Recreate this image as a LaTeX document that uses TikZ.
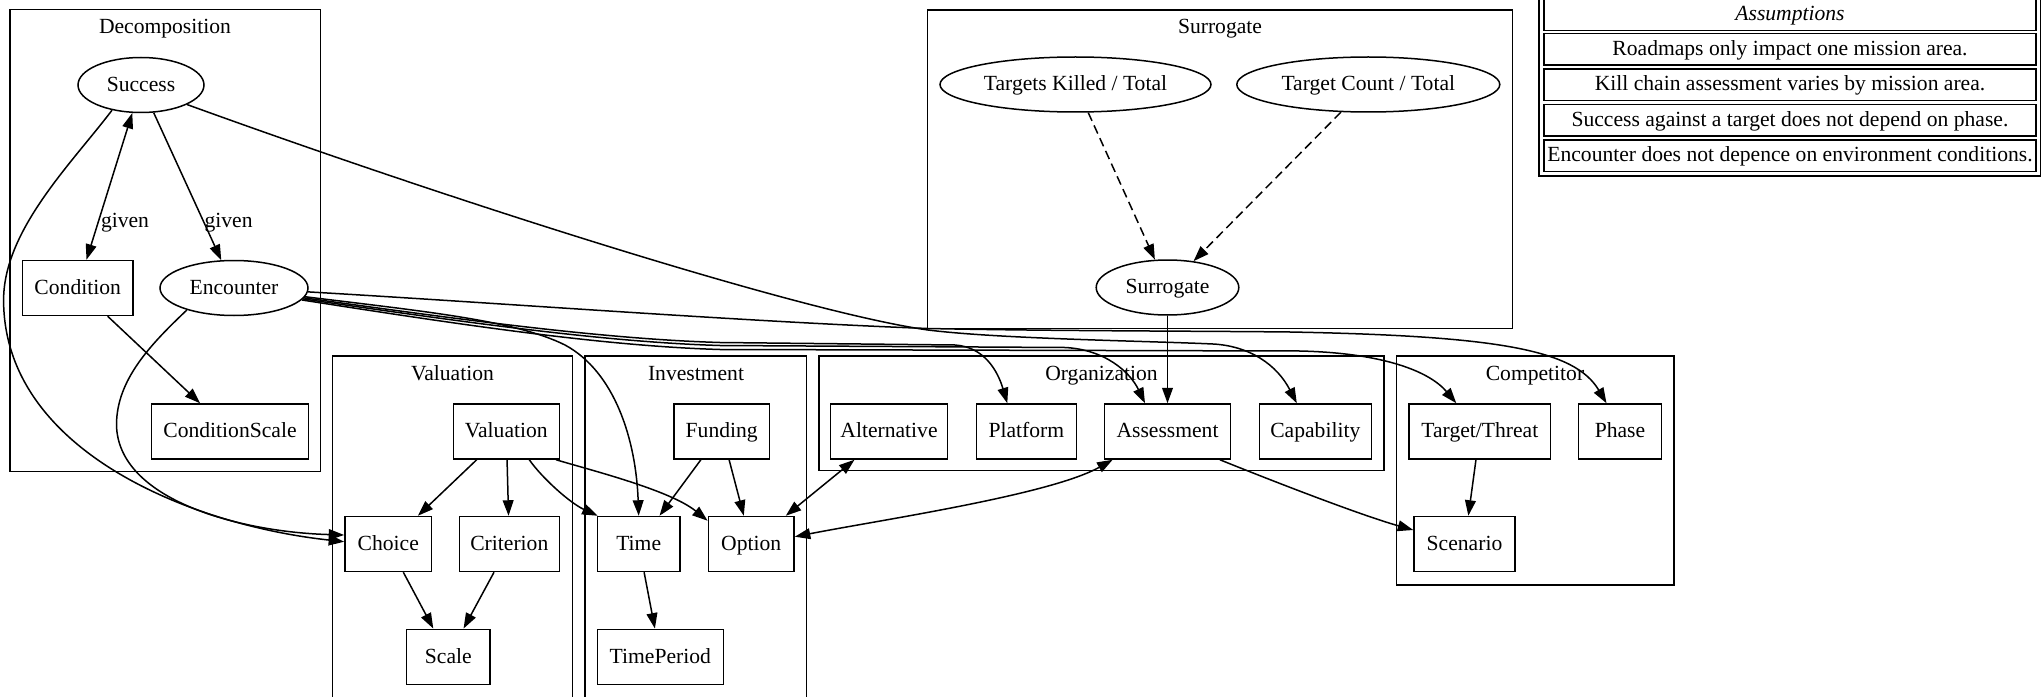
\documentclass[tikz,border=0pt]{standalone}
\usepackage{fontspec}
\setmainfont{Liberation Serif}
\usetikzlibrary{arrows.meta,shapes.geometric,calc}

\begin{document}
\begin{tikzpicture}[x=1bp,y=-1bp,line width=1.5bp,
  every node/.style={font=\fontsize{21.6bp}{26bp}\selectfont,
    text height=17.3bp, text depth=4.9bp, inner sep=0pt},
  box/.style={draw, rectangle, minimum height=55bp},
  oval/.style={draw, ellipse, minimum height=55bp},
  frametitle/.style={anchor=base},
  cell/.style={draw, rectangle, minimum width=492bp, minimum height=31.5bp},
  >={Triangle[length=15.5bp,width=10.8bp]},
  dashedge/.style={->, dash pattern=on 9bp off 5bp}]

\useasboundingbox (0,0) rectangle (2041,697);
\clip (0,0) rectangle (2041,697);

% ---------- cluster frames ----------
\draw (10,9.3) rectangle (320.5,471.7);
\node[frametitle] (tDecomp) at (165,33.5) {Decomposition};
\draw (927.7,10) rectangle (1512.4,328.3);
\node[frametitle] (tSurr) at (1220,34) {Surrogate};
\draw (332.7,356) rectangle (572.3,705);
\node[frametitle] (tVal) at (452.5,380.5) {Valuation};
\draw (585,356) rectangle (806.7,705);
\node[frametitle] (tInv) at (696,380.5) {Investment};
\draw (819,356) rectangle (1384,470.7);
\node[frametitle] (tOrg) at (1101.5,380.5) {Organization};
\draw (1396.7,356) rectangle (1674,585);
\node[frametitle] (tComp) at (1535,380.5) {Competitor};

% ---------- Decomposition ----------
\node[oval, minimum width=126bp] (success) at (141,85) {\makebox[0pt]{Success}};
\node[box, minimum width=110.7bp] (condition) at (77.7,288) {Condition};
\node[oval, minimum width=148bp] (encounter) at (234,288) {\makebox[0pt]{Encounter}};
\node[box, minimum width=156.7bp] (conditionscale) at (230,431.5) {ConditionScale};
\node (given1) at (125,221.7) {given};
\node (given2) at (228.6,221.7) {given};

% ---------- Surrogate ----------
\node[oval, minimum width=271bp] (killed) at (1075.5,84.5) {\makebox[0pt]{Targets Killed / Total}};
\node[oval, minimum width=263bp] (count) at (1368.3,84.5) {\makebox[0pt]{Target Count / Total}};
\node[oval, minimum width=142.6bp] (surrogate) at (1167.5,287.5) {\makebox[0pt]{Surrogate}};

% ---------- Valuation ----------
\node[box, minimum width=106bp] (valuation) at (506.3,431.5) {Valuation};
\node[box, minimum width=86.7bp] (choice) at (388.3,544) {Choice};
\node[box, minimum width=100bp] (criterion) at (509.3,544) {Criterion};
\node[box, minimum width=83.3bp] (scale) at (448.3,656.8) {Scale};

% ---------- Investment ----------
\node[box, minimum width=95.3bp] (funding) at (721.7,431.5) {Funding};
\node[box, minimum width=82.7bp] (time) at (638.7,544) {Time};
\node[box, minimum width=85.7bp] (option) at (751.2,544) {Option};
\node[box, minimum width=126bp] (timeperiod) at (660.3,656.8) {TimePeriod};

% ---------- Organization ----------
\node[box, minimum width=117bp] (alternative) at (889,431.5) {Alternative};
\node[box, minimum width=100bp] (platform) at (1026.3,431.5) {Platform};
\node[box, minimum width=126.3bp] (assessment) at (1167.5,431.5) {Assessment};
\node[box, minimum width=112bp] (capability) at (1315.3,431.5) {Capability};

% ---------- Competitor ----------
\node[box, minimum width=141.7bp] (targetthreat) at (1479.8,431.5) {Target/Threat};
\node[box, minimum width=83.3bp] (phase) at (1620,431.5) {Phase};
\node[box, minimum width=101bp] (scenario) at (1464.5,544) {Scenario};

% ---------- Assumptions table ----------
\draw (1539,-8) rectangle (2040.5,176);
\node[cell, minimum height=32.5bp] (a1) at (1790,14.25) {\itshape Assumptions};
\node[cell] (a2) at (1790,49.25) {Roadmaps only impact one mission area.};
\node[cell] (a3) at (1790,84.75) {Kill chain assessment varies by mission area.};
\node[cell] (a4) at (1790,120.25) {Success against a target does not depend on phase.};
\node[cell] (a5) at (1790,155.75) {Encounter does not depence on environment conditions.};

% ---------- connectors ----------
\draw[<->] (success) -- (condition);
\draw[->] (success) -- (encounter);
\draw[->] (condition) -- (conditionscale);

\draw[->] (success.-139) .. controls (72,163) and (3.6,230) .. (3.6,300)
  .. controls (3.6,450) and (190,525) .. ($(choice.west)+(0,-2.3)$);
\draw[->] (encounter.-155) .. controls (150,345) and (116.5,380) .. (116.5,425)
  .. controls (118,500) and (240,532) .. ($(choice.west)+(0,-9)$);

\draw[->] (success.-23) .. controls (450,200) and (800,312) .. (928,330)
  .. controls (1000,339) and (1150,341) .. (1213,344)
  .. controls (1250,346) and (1277,365) .. ($(capability.north)+(-18.5,0)$);

\draw[->] (encounter.-3) .. controls (500,303) and (750,322) .. (928,328.5)
  .. controls (1050,331) and (1200,331) .. (1290,332)
  .. controls (1500,336) and (1575,350) .. ($(phase.north)+(-13.5,0)$);
\draw[->] (encounter.-7) .. controls (420,311) and (515,320) .. (565,345)
  .. controls (615,372) and (636,440) .. (time.north);
\draw[->] (encounter.-8) .. controls (450,318) and (600,339) .. (720,342.5)
  -- (955,345) .. controls (985,347) and (998,372) .. ($(platform.north)+(-19,0)$);
\draw[->] (encounter.-9) .. controls (450,320) and (600,342) .. (720,345.5)
  -- (1065,347.5) .. controls (1105,349.5) and (1130,372) .. ($(assessment.north)+(-22.5,0)$);
\draw[->] (encounter.-10) .. controls (450,323) and (600,346) .. (720,349.5)
  -- (1300,351) .. controls (1385,353) and (1430,372) .. ($(targetthreat.north)+(-23.5,0)$);

\draw[dashedge] (killed) -- (surrogate);
\draw[dashedge] (count) -- (surrogate);
\draw[->] (surrogate.south) -- (assessment.north);

\draw[->] (valuation) -- (choice);
\draw[->] (valuation) -- (criterion);
\draw[->] ($(valuation.south)+(23,0)$) .. controls (542,478) and (570,503) .. ($(time.north west)+(1,0)$);
\draw[->] ($(valuation.south east)+(-4,0)$) .. controls (590,470) and (670,490) .. ($(option.north west)+(0,5)$);
\draw[->] (choice) -- (scale);
\draw[->] (criterion) -- (scale);
\draw[->] (funding) -- (time);
\draw[->] (funding) -- (option);
\draw[->] (time) -- (timeperiod);

\draw[<->] (alternative) -- (option);
\draw[<->] ($(assessment.south west)+(9,0)$) .. controls (1050,495) and (880,520) .. ($(option.east)+(0,-7.3)$);
\draw[->] ($(assessment.south east)+(-11.5,0)$) .. controls (1270,480) and (1360,515) .. ($(scenario.west)+(0,-14)$);
\draw[->] (targetthreat) -- (scenario);

\end{tikzpicture}
\end{document}
